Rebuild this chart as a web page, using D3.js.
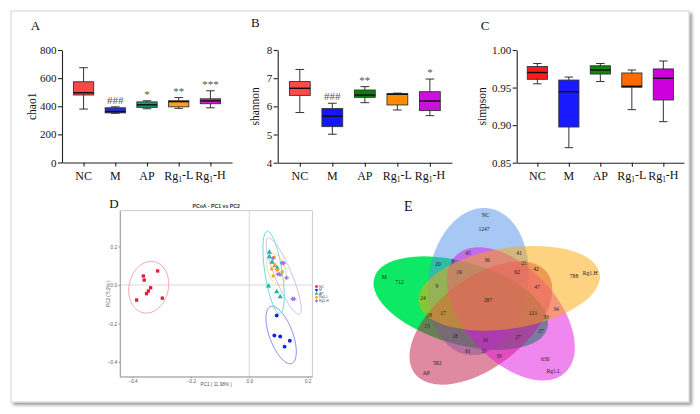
<!DOCTYPE html>
<html><head><meta charset="utf-8">
<script src="https://cdn.jsdelivr.net/npm/d3@7"></script>
<style>body{margin:0;background:#fff}svg{display:block}</style>
</head><body><svg width="700" height="414"></svg>
<script>
// ================= DATA =================
const groups = ["NC","M","AP","Rg1-L","Rg1-H"];
// box stats: [min, q1, median, q3, max]
const chao1   = [[380,480,496,574,674],[350,353,362,389,396],[382,392,410,431,439],[385,396,433,439,462],[389,418,438,453,510]];
const chao1Sig = ["","###","*","**","***"];
const chao1Ticks = [0,200,400,600,800];
const shannon = [[5.78,6.39,6.64,6.88,7.31],[5.01,5.28,5.65,5.92,6.11],[6.13,6.32,6.40,6.58,6.70],[5.87,6.05,6.43,6.45,6.47],[5.67,5.85,6.19,6.52,6.97]];
const shannonSig = ["","###","**","","*"];
const shannonTicks = [4,5,6,7,8];
const simpson = [[0.955,0.961,0.970,0.978,0.982],[0.870,0.8975,0.9445,0.960,0.964],[0.958,0.968,0.9734,0.979,0.982],[0.9206,0.9504,0.9517,0.9694,0.9734],[0.9046,0.9335,0.9624,0.9748,0.9854]];
const simpsonSig = ["","","","",""];
const simpsonTicks = [0.85,0.90,0.95,1.00];

// PCoA scores [PC1, PC2]
const pcoaGroups = ["NC","M","AP","Rg1.L","Rg1.H"];
const pcoaNC  = [[-0.363,0.047],[-0.360,0.026],[-0.314,0.073],[-0.338,-0.014],[-0.346,-0.031],[-0.352,-0.045],[-0.386,-0.078],[-0.298,-0.068]];
const pcoaM   = [[0.094,-0.158],[0.086,-0.262],[0.106,-0.267],[0.121,-0.320],[0.139,-0.289]];
const pcoaAP  = [[0.069,0.170],[0.069,0.147],[0.078,0.119],[0.088,0.100],[0.096,0.087],[0.066,-0.005],[0.094,-0.035],[0.106,-0.061]];
const pcoaRgL = [[0.085,0.145],[0.088,0.104],[0.077,0.083],[0.096,0.078],[0.113,0.069],[0.108,0.052],[0.082,0.047]];
const pcoaRgH = [[0.082,0.139],[0.112,0.114],[0.118,0.114],[0.098,0.056],[0.104,0.056],[0.128,0.038],[0.148,-0.072],[0.154,-0.072]];
const pcTicks = [-0.4,-0.2,0.0,0.2];

// Venn (OTU counts)
const vennSets = ["NC","Rg1.H","Rg1.L","AP","M"];
const vennCounts = [
 ["NC",1247],["Rg1.H",788],["Rg1.L",630],["AP",582],["M",712],
 ["NC&M",20],["NC&Rg1.H",41],["Rg1.H&Rg1.L",34],["Rg1.L&AP",39],["AP&M",15],
 ["NC&Rg1.L",45],["Rg1.H&AP",42],["Rg1.L&M",27],["NC&AP",61],["Rg1.H&M",24],
 ["NC&Rg1.L&M",9],["NC&Rg1.H&AP",21],["Rg1.H&Rg1.L&M",33],["NC&Rg1.L&AP",37],["Rg1.H&AP&M",18],
 ["NC&Rg1.H&Rg1.L",36],["Rg1.H&Rg1.L&AP",47],["Rg1.L&AP&M",27],["NC&AP&M",18],["NC&Rg1.H&M",9],
 ["NC&Rg1.H&Rg1.L&AP",62],["Rg1.H&Rg1.L&AP&M",121],["NC&Rg1.L&AP&M",16],["NC&Rg1.H&AP&M",17],["NC&Rg1.H&Rg1.L&M",19],
 ["NC&Rg1.H&Rg1.L&AP&M",287]
];

// ================= DRAW =================
const SERIF = "'Liberation Serif','Times New Roman',serif";
const SANS = "'Liberation Sans',Arial,sans-serif";
const svg = d3.select("svg");
const defs = svg.append("defs");
const flt = defs.append("filter").attr("id","sh").attr("x","-3%").attr("y","-3%").attr("width","106%").attr("height","108%");
flt.append("feDropShadow").attr("dx",2.5).attr("dy",2.5).attr("stdDeviation",1.6).attr("flood-color","#000").attr("flood-opacity",0.4);
svg.append("rect").attr("x",11).attr("y",11).attr("width",678).attr("height",391)
  .attr("fill","#fff").attr("stroke","#d6d6d6").attr("filter","url(#sh)");

function letter(t,x,y,fs){
  svg.append("text").attr("x",x).attr("y",y).attr("font-family",SERIF).attr("font-size",fs).attr("fill","#111").text(t);
}
function catLabel(sel,name){
  const m = name.match(/^Rg1(-.*)$/);
  if(m){
    sel.append("tspan").text("Rg");
    sel.append("tspan").attr("font-size","0.62em").attr("dy","0.28em").text("1");
    sel.append("tspan").attr("dy","-0.28em").text(m[1]);
  } else sel.text(name);
}
function styleAxis(a){
  a.attr("font-family",SERIF).attr("font-size",11);
  a.select(".domain").attr("stroke","#222").attr("stroke-width",1.1);
  a.selectAll(".tick line").attr("stroke","#222").attr("stroke-width",1.1);
  a.selectAll(".tick text").attr("fill","#111");
}
function boxPanel(o){
  const x = d3.scalePoint().domain(groups).range([o.x0,o.x1]).padding(o.pad);
  const y = d3.scaleLinear().domain(o.domain).range([o.yb,o.yt]);
  const g = svg.append("g");
  const bw = x.step()*0.64, cw = bw*0.42;
  const rows = o.data.map((v,i)=>({k:groups[i],v,c:o.colors[i],s:o.sig[i]}));
  const b = g.selectAll("g.b").data(rows).join("g").attr("class","b");
  b.append("line").attr("x1",d=>x(d.k)).attr("x2",d=>x(d.k)).attr("y1",d=>y(d.v[0])).attr("y2",d=>y(d.v[4])).attr("stroke","#333").attr("stroke-width",1);
  b.append("line").attr("x1",d=>x(d.k)-cw/2).attr("x2",d=>x(d.k)+cw/2).attr("y1",d=>y(d.v[4])).attr("y2",d=>y(d.v[4])).attr("stroke","#333");
  b.append("line").attr("x1",d=>x(d.k)-cw/2).attr("x2",d=>x(d.k)+cw/2).attr("y1",d=>y(d.v[0])).attr("y2",d=>y(d.v[0])).attr("stroke","#333");
  b.append("rect").attr("x",d=>x(d.k)-bw/2).attr("width",bw).attr("y",d=>y(d.v[3])).attr("height",d=>y(d.v[1])-y(d.v[3]))
    .attr("fill",d=>d.c).attr("stroke","#333").attr("stroke-width",0.9);
  b.append("line").attr("x1",d=>x(d.k)-bw/2).attr("x2",d=>x(d.k)+bw/2).attr("y1",d=>y(d.v[2])).attr("y2",d=>y(d.v[2])).attr("stroke","#111").attr("stroke-width",1.5);
  b.append("text").attr("x",d=>x(d.k)).attr("y",d=>y(d.v[4])-3).attr("text-anchor","middle")
    .attr("font-family",SERIF).attr("font-size",11).attr("fill","#555").text(d=>d.s);
  const ya = g.append("g").attr("transform",`translate(${o.x0},0)`)
    .call(d3.axisLeft(y).tickValues(o.ticks).tickFormat(o.fmt).tickSize(4).tickSizeOuter(0).tickPadding(1.5));
  styleAxis(ya);
  const xa = g.append("g").attr("transform",`translate(0,${o.yb})`)
    .call(d3.axisBottom(x).tickSize(4).tickSizeOuter(0).tickFormat(""));
  styleAxis(xa);
  g.selectAll("text.cat").data(groups).join("text").attr("class","cat")
    .attr("x",d=>x(d)).attr("y",o.yb+17.5).attr("text-anchor","middle")
    .attr("font-family",SERIF).attr("font-size",12).attr("fill","#111")
    .each(function(d){catLabel(d3.select(this),d);});
  g.append("text").attr("transform",`translate(${o.tx},${(o.yt+o.yb)/2}) rotate(-90)`).attr("text-anchor","middle")
    .attr("dy","0.35em").attr("font-family",SERIF).attr("font-size",11.5).attr("fill","#111").text(o.title);
}
boxPanel({x0:62,x1:232,pad:0.68,yt:50,yb:162.5,domain:[0,800],ticks:chao1Ticks,fmt:d3.format("d"),data:chao1,sig:chao1Sig,
  colors:["#f94848","#2030d0","#12a070","#ffa024","#d020d0"],title:"chao1",tx:32});
boxPanel({x0:277.7,x1:452,pad:0.68,yt:50,yb:162.7,domain:[4,8],ticks:shannonTicks,fmt:d3.format("d"),data:shannon,sig:shannonSig,
  colors:["#ff4a4a","#1515ff","#0b800f","#ff8c00","#cc11dd"],title:"shannon",tx:255});
boxPanel({x0:516.7,x1:684,pad:0.656,yt:50,yb:162.7,domain:[0.85,1.0],ticks:simpsonTicks,fmt:d3.format(".2f"),data:simpson,sig:simpsonSig,
  colors:["#ff1a1a","#1a1aff","#108810","#ff6a00","#cc00dd"],title:"simpson",tx:481.7});
letter("A",30.7,30,13); letter("B",251,27.3,13); letter("C",480.7,30,13);

// ---------- D: PCoA ----------
(function(){
  const L=120,R=312.3,T=210.7,B=376.7;
  const xs = d3.scaleLinear().domain([-0.443,0.216]).range([L,R]);
  const ys = d3.scaleLinear().domain([-0.476,0.386]).range([B,T]);
  const g = svg.append("g");
  g.append("rect").attr("x",L).attr("y",T).attr("width",R-L).attr("height",B-T).attr("fill","none").attr("stroke","#bdbdbd").attr("stroke-width",0.8);
  g.append("line").attr("x1",xs(0)).attr("x2",xs(0)).attr("y1",T).attr("y2",B).attr("stroke","#cfcfcf").attr("stroke-width",0.8);
  g.append("line").attr("x1",L).attr("x2",R).attr("y1",ys(0)).attr("y2",ys(0)).attr("stroke","#cfcfcf").attr("stroke-width",0.8);
  const xa = g.append("g").attr("transform",`translate(0,${B})`).call(d3.axisBottom(xs).tickValues(pcTicks).tickFormat(d3.format(".1f")).tickSize(1.5).tickSizeOuter(0).tickPadding(1.5));
  const ya = g.append("g").attr("transform",`translate(${L},0)`).call(d3.axisLeft(ys).tickValues(pcTicks).tickFormat(d3.format(".1f")).tickSize(1.5).tickSizeOuter(0).tickPadding(1.5));
  [xa,ya].forEach(a=>{a.attr("font-family",SANS).attr("font-size",4.6);a.select(".domain").attr("stroke","#999").attr("stroke-width",0.8);
    a.selectAll(".tick line").attr("stroke","#999");a.selectAll(".tick text").attr("fill","#555");});
  g.append("text").attr("x",(L+R)/2).attr("y",207.5).attr("text-anchor","middle").attr("font-family",SANS).attr("font-weight","bold").attr("font-size",5.2).attr("fill","#333").text("PCoA - PC1 vs PC2");
  g.append("text").attr("x",(L+R)/2).attr("y",386).attr("text-anchor","middle").attr("font-family",SANS).attr("font-size",4.6).attr("fill","#555").text("PC1 ( 11.98% )");
  g.append("text").attr("transform",`translate(110,${(T+B)/2}) rotate(-90)`).attr("text-anchor","middle").attr("font-family",SANS).attr("font-size",4.6).attr("fill","#555").text("PC2 ( 5.2% )");

  const sets = [pcoaNC,pcoaM,pcoaAP,pcoaRgL,pcoaRgH];
  const ptCol = ["#ea1634","#1424ee","#1fb5a5","#ffa514","#9b72e0"];
  const elCol = ["#f49aa6","#7f80e6","#55d8cc","#f7cf8a","#c9b4ee"];
  const sym = [d3.symbolSquare,d3.symbolCircle,d3.symbolTriangle,d3.symbolCircle,d3.symbolCross];
  const symSize = [11,12,12,9,10];
  const k = Math.sqrt(5.991); // 95% chi-square, 2 df
  function ellipse(pts){
    const P = pts.map(p=>[xs(p[0]),ys(p[1])]);
    const n = P.length, mx = d3.mean(P,p=>p[0]), my = d3.mean(P,p=>p[1]);
    let sxx=0,syy=0,sxy=0;
    P.forEach(p=>{const dx=p[0]-mx,dy=p[1]-my;sxx+=dx*dx;syy+=dy*dy;sxy+=dx*dy;});
    sxx/=n-1;syy/=n-1;sxy/=n-1;
    const tr=(sxx+syy)/2, disc=Math.sqrt(((sxx-syy)/2)**2+sxy*sxy);
    const l1=tr+disc,l2=Math.max(tr-disc,1e-6);
    const th=0.5*Math.atan2(2*sxy,sxx-syy);
    const a=k*Math.sqrt(l1),b=k*Math.sqrt(l2);
    const out=d3.range(0,101).map(i=>{const t=i/100*2*Math.PI;const u=a*Math.cos(t),v=b*Math.sin(t);
      return [mx+u*Math.cos(th)-v*Math.sin(th), my+u*Math.sin(th)+v*Math.cos(th)];});
    return d3.line()(out);
  }
  sets.forEach((pts,i)=>{
    g.append("path").attr("d",ellipse(pts)).attr("fill","none").attr("stroke",elCol[i]).attr("stroke-width",0.9);
  });
  sets.forEach((pts,i)=>{
    g.selectAll(null).data(pts).join("path").attr("transform",d=>`translate(${xs(d[0])},${ys(d[1])})`)
      .attr("d",d3.symbol(sym[i],symSize[i])).attr("fill",ptCol[i]);
  });
  const lg = g.append("g").attr("transform","translate(316.5,286.5)");
  pcoaGroups.forEach((nm,i)=>{
    lg.append("path").attr("transform",`translate(0,${i*3.6})`).attr("d",d3.symbol(sym[i],6)).attr("fill",ptCol[i]);
    lg.append("text").attr("x",2.5).attr("y",i*3.6).attr("dy","0.35em").attr("font-family",SANS).attr("font-size",3.4).attr("fill","#444").text(nm);
  });
})();
letter("D",109.3,208.3,13);

// ---------- E: Venn ----------
(function(){
  const C=[488,302], S=1.25, r=21.8, a=73.9, b=40;
  const cols = {"NC":"#4f91e9","Rg1.H":"#fba705","Rg1.L":"#e010e0","AP":"#c11545","M":"#00e85c"};
  const ops  = {"NC":0.5,"Rg1.H":0.5,"Rg1.L":0.5,"AP":0.5,"M":0.95};
  const E = vennSets.map((s,k)=>{
    const ph=(-110.9+72*k)*Math.PI/180, ps=(-85+72*k);
    return {s,cx:r*Math.cos(ph),cy:r*Math.sin(ph),rot:ps,c:Math.cos(ps*Math.PI/180),sn:Math.sin(ps*Math.PI/180)};
  });
  const g = svg.append("g").attr("transform",`translate(${C[0]},${C[1]}) scale(${S},1)`);
  const order = ["M","NC","AP","Rg1.L","Rg1.H"];
  order.forEach(s=>{
    const e=E[vennSets.indexOf(s)];
    g.append("ellipse").attr("cx",0).attr("cy",0).attr("rx",a).attr("ry",b)
      .attr("transform",`translate(${e.cx},${e.cy}) rotate(${e.rot})`)
      .attr("fill",cols[s]).attr("fill-opacity",ops[s]).attr("stroke","none");
  });
  function inside(k,px,py){
    const e=E[k]; const dx=(px-C[0])/S-e.cx, dy=(py-C[1])-e.cy;
    const u=dx*e.c+dy*e.sn, v=-dx*e.sn+dy*e.c;
    return u*u/(a*a)+v*v/(b*b)<=1;
  }
  // label positions: pole of inaccessibility for each region (grid distance transform)
  const gx0=355,gy0=190,GW=265,GH=215;
  const code=new Int8Array(GW*GH), dist=new Float32Array(GW*GH);
  for(let j=0;j<GH;j++)for(let i=0;i<GW;i++){
    let m=0; for(let k=0;k<5;k++) if(inside(k,gx0+i,gy0+j)) m|=1<<k;
    code[j*GW+i]=m;
  }
  for(let j=0;j<GH;j++)for(let i=0;i<GW;i++){
    const id=j*GW+i, m=code[id];
    let bd = i==0||j==0||i==GW-1||j==GH-1 ||
      code[id-1]!==m||code[id+1]!==m||code[id-GW]!==m||code[id+GW]!==m;
    dist[id]= bd?0:1e9;
  }
  const D2=Math.SQRT2;
  for(let j=1;j<GH-1;j++)for(let i=1;i<GW-1;i++){const id=j*GW+i;
    dist[id]=Math.min(dist[id],dist[id-1]+1,dist[id-GW]+1,dist[id-GW-1]+D2,dist[id-GW+1]+D2);}
  for(let j=GH-2;j>0;j--)for(let i=GW-2;i>0;i--){const id=j*GW+i;
    dist[id]=Math.min(dist[id],dist[id+1]+1,dist[id+GW]+1,dist[id+GW+1]+D2,dist[id+GW-1]+D2);}
  const best={};
  for(let id=0;id<GW*GH;id++){const m=code[id]; if(!m) continue;
    if(!best[m]||dist[id]>best[m].d) best[m]={d:dist[id],x:gx0+id%GW,y:gy0+Math.floor(id/GW)};}
  const lab = svg.append("g").attr("font-family",SERIF).attr("font-size",5.6).attr("fill","#222").attr("text-anchor","middle");
  function axisPt(k,f){const e=E[k];return [C[0]+S*(e.cx+f*a*e.c), C[1]+e.cy+f*a*e.sn];}
  vennCounts.forEach(([key,n])=>{
    const mem=key.split("&");
    if(mem.length===1){
      const k=vennSets.indexOf(mem[0]);
      const p=axisPt(k,0.72), q=axisPt(k,0.9);
      lab.append("text").attr("x",p[0]).attr("y",p[1]).attr("dy","0.35em").text(n);
      lab.append("text").attr("x",q[0]).attr("y",q[1]).attr("dy","0.35em").text(mem[0]);
    } else {
      let m=0; mem.forEach(s=>m|=1<<vennSets.indexOf(s));
      const p=best[m]; if(!p) return;
      lab.append("text").attr("x",p.x).attr("y",p.y).attr("dy","0.35em").text(n);
    }
  });
})();
letter("E",404,210.7,14);
</script></body></html>
